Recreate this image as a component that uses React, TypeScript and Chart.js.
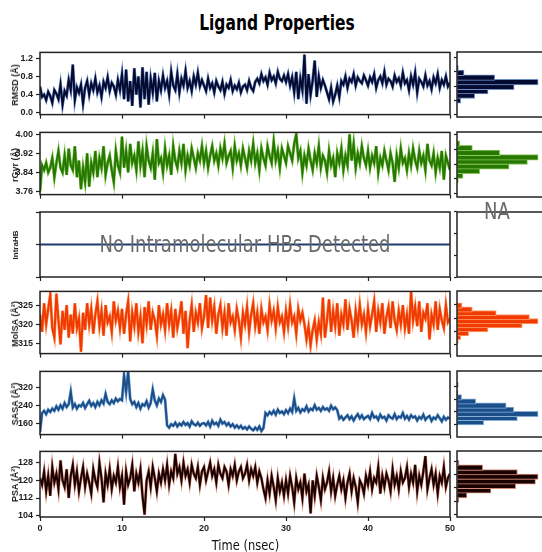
import React, { useEffect, useRef } from 'react';
import { Chart, registerables } from 'chart.js';

Chart.register(...registerables);

// ---------------- data ----------------
const TIME_STEP_NS = 0.25;
const X_TICKS = [0, 10, 20, 30, 40, 50];

const RMSD = [
  0.58,0.35,0.40,0.28,0.46,0.37,0.22,0.50,0.42,0.30,0.62,0.18,0.48,0.38,0.72,0.50,1.06,0.28,0.56,0.44,
  0.62,0.20,0.55,0.70,0.40,0.65,0.50,0.75,0.45,0.60,0.35,0.68,0.55,0.78,0.48,0.66,0.58,0.40,0.72,0.50,
  0.85,0.30,0.95,0.25,0.70,0.15,0.98,0.40,0.80,0.12,1.00,0.30,0.90,0.18,0.75,0.45,0.88,0.25,0.70,0.50,
  0.82,0.55,0.70,0.40,0.90,0.60,0.50,0.85,0.45,0.75,0.60,0.92,0.55,0.70,0.48,0.80,0.62,0.88,0.58,0.72,
  0.60,0.48,0.75,0.55,0.65,0.45,0.70,0.58,0.50,0.68,0.42,0.62,0.55,0.72,0.48,0.60,0.52,0.66,0.45,0.58,
  0.62,0.50,0.70,0.55,0.48,0.68,0.75,0.65,0.85,0.70,0.78,0.62,0.88,0.72,0.80,0.65,0.90,0.75,0.70,0.82,
  0.68,0.85,0.60,0.78,0.45,0.90,0.30,0.75,0.50,1.28,0.20,0.85,0.40,0.70,1.15,0.35,0.80,0.55,0.72,0.60,
  0.45,0.30,0.55,0.25,0.40,0.60,0.35,0.70,0.62,0.80,0.55,0.75,0.68,0.85,0.60,0.78,0.70,0.65,0.82,0.72,
  0.60,0.78,0.68,0.85,0.55,0.72,0.80,0.65,0.90,0.62,0.75,0.70,0.58,0.82,0.68,0.76,0.60,0.88,0.65,0.72,
  0.50,0.80,0.62,0.88,0.45,0.75,0.68,0.58,0.82,0.60,0.70,0.52,0.78,0.65,0.85,0.55,0.72,0.62,0.80,0.58,0.66,
];

const RGYR = [
  3.76,3.87,3.85,3.88,3.84,3.86,3.90,3.82,3.88,3.93,3.86,3.84,3.91,3.83,3.94,3.87,3.85,3.95,3.82,3.89,
  3.77,3.86,3.80,3.92,3.78,3.88,3.84,3.93,3.82,3.90,3.86,3.95,3.83,3.88,3.91,3.85,3.80,3.93,3.87,3.84,
  3.99,3.86,3.93,3.84,3.96,3.88,3.91,3.85,3.97,3.87,3.93,3.82,3.95,3.89,3.86,3.92,3.81,3.98,3.88,3.90,
  3.84,3.94,3.87,3.91,3.83,3.95,3.89,3.86,3.93,3.88,3.96,3.85,3.91,3.87,3.94,3.90,3.86,3.92,3.89,3.95,
  3.88,3.93,3.86,3.91,3.95,3.89,3.92,3.87,3.94,3.90,3.96,3.88,3.91,3.93,3.86,3.95,3.89,3.92,3.87,3.94,
  3.90,3.86,3.93,3.89,3.96,3.88,3.92,3.85,3.94,3.90,3.87,3.95,3.91,3.88,3.97,3.89,3.93,3.86,3.94,3.91,
  3.88,3.95,3.92,3.89,3.96,4.00,3.90,3.93,3.84,3.91,3.87,3.94,3.89,3.85,3.92,3.88,3.95,3.86,3.91,3.89,
  3.84,3.93,3.87,3.90,3.82,3.92,3.88,3.94,3.85,3.91,3.87,4.00,3.89,3.96,3.86,3.92,3.88,3.95,3.90,3.87,
  3.93,3.86,3.91,3.88,3.95,3.84,3.90,3.87,3.93,3.89,3.85,3.92,3.88,3.80,3.91,3.86,3.94,3.88,3.90,3.85,
  3.92,3.87,3.94,3.89,3.86,3.93,3.88,3.91,3.85,3.96,3.89,3.87,3.92,3.84,3.90,3.86,3.93,3.81,3.91,3.88,3.85,
];

const INTRAHB_TIME = [0, 50];
const INTRAHB = [0, 0];

const MOLSA = [
  322.5,318.0,325.5,320.0,324.0,327.7,319.0,316.5,328.0,321.0,314.7,323.5,318.5,325.0,316.5,322.5,317.5,325.5,319.0,321.5,
  312.8,323.0,318.5,325.5,320.0,324.0,317.5,322.5,326.0,319.5,323.5,317.0,325.0,320.5,322.0,318.0,326.0,321.0,323.5,319.0,
  324.0,317.5,322.5,326.0,315.5,323.0,319.5,325.5,318.0,322.0,315.0,324.5,320.0,326.0,318.5,323.0,321.0,317.0,325.0,320.0,
  322.5,318.5,325.5,320.0,323.5,316.5,324.0,319.0,322.0,326.0,317.5,323.5,313.7,321.0,325.0,318.0,323.0,320.5,325.5,319.0,
  322.0,327.6,319.0,327.0,321.0,324.5,317.5,322.5,325.0,319.0,323.0,317.0,325.5,320.5,322.0,318.5,324.0,321.0,316.5,323.0,
  320.0,324.5,318.0,322.5,325.5,319.5,323.0,317.5,324.0,320.5,322.0,318.5,325.0,321.0,323.5,319.0,324.5,320.5,322.0,318.0,
  323.5,319.5,325.0,320.5,322.0,317.5,324.0,321.0,323.0,320.0,316.0,319.5,314.5,318.5,321.0,316.0,320.5,317.5,327.0,316.5,
  321.0,326.5,318.0,323.5,319.5,325.5,317.0,322.5,320.0,326.5,318.5,324.0,321.0,316.5,323.5,319.5,325.0,320.0,322.5,318.0,
  324.0,319.5,322.5,326.0,318.0,323.5,320.5,325.5,317.5,322.0,324.5,319.0,326.0,321.0,318.5,323.5,320.0,325.0,319.0,322.5,
  317.5,328.6,321.0,324.5,319.5,326.0,318.0,323.0,321.5,325.5,316.0,322.5,320.0,326.0,318.5,324.0,321.0,319.0,325.0,320.5,321.5,
];

const SASA = [
  120,205,215,200,220,210,225,215,235,220,240,225,250,232,245,300,230,245,225,240,
  235,250,228,245,260,238,250,232,255,240,262,248,290,255,245,262,250,270,258,268,
  262,375,300,390,268,245,255,232,250,225,245,238,258,230,250,310,262,240,270,255,
  285,265,150,140,155,148,162,145,158,150,165,152,160,145,168,155,150,162,148,158,
  160,150,165,145,170,155,162,148,175,158,165,150,160,145,155,140,150,138,148,135,
  142,132,145,135,128,140,130,145,125,138,205,195,210,200,215,198,220,205,212,200,
  218,205,225,210,270,215,228,208,222,215,235,212,225,218,240,220,228,215,232,220,
  226,215,238,222,230,218,180,190,175,185,195,178,190,172,188,200,182,195,178,186,
  192,178,205,185,190,175,198,183,188,172,195,185,180,200,178,190,185,205,180,192,
  176,195,185,190,172,188,180,198,175,186,192,170,185,178,195,182,168,188,175,185,180,
];

const PSA = [
  121,118,124,115,122,113,126,119,123,116,129,120,117,125,112,122,127,118,124,115,
  121,126,117,123,119,114,125,120,117,128,121,110,123,118,125,116,122,119,126,117,
  122,109,124,118,121,127,115,123,119,125,113,104.5,120,124,117,126,121,115,123,119,
  125,120,127,118,124,121,132,123,126,120,128,122,125,119,127,123,121,126,118,124,
  126,120,124,128,122,125,119,127,123,121,126,124,118,125,122,127,120,124,126,121,
  123,127,120,125,122,126,119,124,121,116,112,120,114,122,117,111,121,115,119,113,
  120,114,122,117,110,121,116,119,112,123,115,118,105,120,113,122,117,111,121,116,
  119,124,115,121,113,118,122,116,120,112,119,123,115,121,117,110,120,118,114,122,
  118,124,116,121,119,126,114,122,117,123,120,115,125,118,122,116,124,119,121,126,
  117,123,119,127,115,122,118,124,131,116,121,125,118,123,114,122,119,126,117,121,123,
];

// histogram bins (centres) and counts
const RMSD_BINS = [0.20, 0.33, 0.46, 0.58, 0.71, 0.84, 0.97, 1.10];
const RMSD_COUNTS = [11, 53, 93, 171, 243, 113, 21, 4];
const RGYR_BINS = [3.794, 3.818, 3.843, 3.867, 3.892, 3.916, 3.940, 3.965, 3.989];
const RGYR_COUNTS = [4, 18, 68, 156, 211, 243, 128, 46, 8];
const MOLSA_BINS = [313.9, 315.4, 316.8, 318.3, 319.8, 321.3, 322.8, 324.3, 325.7, 327.2];
const MOLSA_COUNTS = [4, 11, 35, 93, 196, 244, 218, 118, 46, 15];
const SASA_BINS = [133, 160, 186, 213, 240, 266, 293, 320, 373];
const SASA_COUNTS = [81, 183, 246, 172, 149, 57, 14, 3, 4];
const PSA_BINS = [108.9, 111.6, 114.4, 117.1, 119.8, 122.6, 125.3, 128.1, 130.8];
const PSA_COUNTS = [6, 30, 103, 178, 238, 246, 183, 78, 6];

// y tick values
const RMSD_TICKS = [0, 0.4, 0.8, 1.2];
const RGYR_TICKS = [3.76, 3.84, 3.92, 4.0];
const INTRAHB_TICKS = [-1, 0, 1];
const MOLSA_TICKS = [315, 320, 325];
const SASA_TICKS = [160, 240, 320];
const PSA_TICKS = [104, 112, 120, 128];

// ---------------- layout / style ----------------
const PADT = 8;
const TICK_FONT = { family: '"Liberation Sans", Arial, sans-serif', size: 9, weight: 'bold' as const };
const INK = '#1e1e1e';

const ROWS = [
  { label: 'RMSD (Å)', t: null, v: RMSD, color: '#050b30', halo: '#6f8fc8', min: -0.04, max: 1.33, ticks: RMSD_TICKS, fmt: (x: number) => x.toFixed(1), bins: RMSD_BINS, counts: RMSD_COUNTS, top: 52, h: 65 },
  { label: 'rGyr (Å)', t: null, v: RGYR, color: '#267800', halo: '#86c65a', min: 3.747, max: 4.008, ticks: RGYR_TICKS, fmt: (x: number) => x.toFixed(2), bins: RGYR_BINS, counts: RGYR_COUNTS, top: 132, h: 65 },
  { label: 'IntraHB', t: INTRAHB_TIME, v: INTRAHB, color: '#1d3c72', halo: '#1d3c72', min: -1, max: 1, ticks: INTRAHB_TICKS, fmt: null, bins: null, counts: null, top: 212, h: 65 },
  { label: 'MolSA (Å²)', t: null, v: MOLSA, color: '#f03a00', halo: '#ffa070', min: 312.3, max: 328.6, ticks: MOLSA_TICKS, fmt: (x: number) => String(x), bins: MOLSA_BINS, counts: MOLSA_COUNTS, top: 291, h: 65 },
  { label: 'SASA (Å²)', t: null, v: SASA, color: '#1b4f8a', halo: '#86add8', min: 108.6, max: 391.6, ticks: SASA_TICKS, fmt: (x: number) => String(x), bins: SASA_BINS, counts: SASA_COUNTS, top: 371, h: 66 },
  { label: 'PSA (Å²)', t: null, v: PSA, color: '#1a0202', halo: '#d48a76', min: 103.4, max: 133.1, ticks: PSA_TICKS, fmt: (x: number) => String(x), bins: PSA_BINS, counts: PSA_COUNTS, top: 451, h: 66 },
];

const framePlugin = {
  id: 'frame',
  afterDraw(chart: any) {
    const { ctx, chartArea: a } = chart;
    ctx.save();
    ctx.strokeStyle = '#222';
    ctx.lineWidth = 1.5;
    ctx.strokeRect(a.left, a.top, a.right - a.left, a.bottom - a.top);
    ctx.restore();
  },
};

const gridOpts = { drawOnChartArea: false, drawTicks: true, tickLength: 4, tickColor: '#222', tickWidth: 1.2 };

function LinePanel({ row, last }: any) {
  const ref = useRef<HTMLCanvasElement>(null);
  const xh = last ? 24 : 6;
  const W = 460;
  const H = PADT + row.h + xh;
  useEffect(() => {
    const times = row.t || row.v.map((_: number, i: number) => i * TIME_STEP_NS);
    const pts = row.v.map((y: number, i: number) => ({ x: times[i], y }));
    const datasets: any[] = [];
    datasets.push({ data: pts, borderColor: row.color, borderWidth: 2, pointRadius: 0, tension: 0, fill: false, order: 0 });
    if (row.halo !== row.color) {
      datasets.push({ data: pts, borderColor: row.halo, borderWidth: 3.1, pointRadius: 0, tension: 0, fill: false, order: 1 });
    }
    const chart = new Chart(ref.current as HTMLCanvasElement, {
      type: 'line',
      data: { datasets },
      options: {
        responsive: false,
        animation: false,
        devicePixelRatio: 1,
        events: [],
        layout: { padding: { top: PADT, right: 10, bottom: 0, left: 0 } },
        plugins: { legend: { display: false }, tooltip: { enabled: false } },
        scales: {
          x: {
            type: 'linear', min: 0, max: 50,
            afterBuildTicks: (s: any) => { s.ticks = X_TICKS.map((v) => ({ value: v })); },
            afterFit: (s: any) => { s.height = xh; },
            grid: gridOpts, border: { display: false },
            ticks: { display: last, font: TICK_FONT, color: INK, padding: 2, maxRotation: 0, autoSkip: false, callback: (v: any) => String(v) },
          },
          y: {
            type: 'linear', min: row.min, max: row.max,
            afterBuildTicks: (s: any) => { s.ticks = row.ticks.map((v: number) => ({ value: v })); },
            afterFit: (s: any) => { s.width = 40; },
            grid: gridOpts, border: { display: false },
            ticks: { display: !!row.fmt, font: TICK_FONT, color: INK, padding: 3, autoSkip: false, callback: (v: any) => (row.fmt ? row.fmt(Number(v)) : '') },
          },
        },
      } as any,
      plugins: [framePlugin],
    });
    return () => chart.destroy();
  }, []);
  return <canvas ref={ref} width={W} height={H} style={{ position: 'absolute', left: 0, top: row.top - PADT, width: W, height: H }} />;
}

function HistPanel({ row }: any) {
  const ref = useRef<HTMLCanvasElement>(null);
  const W = 120;
  const H = PADT + row.h + 4;
  useEffect(() => {
    const datasets: any[] = [];
    let xmax = 100;
    if (row.bins) {
      xmax = Math.max(...row.counts) * 1.43;
      datasets.push({
        data: row.bins.map((b: number, i: number) => ({ x: row.counts[i], y: b })),
        backgroundColor: row.color,
        borderColor: row.halo,
        borderWidth: 1,
        borderSkipped: false,
        barThickness: 5.5,
      });
    }
    const chart = new Chart(ref.current as HTMLCanvasElement, {
      type: 'bar',
      data: { datasets },
      options: {
        indexAxis: 'y',
        responsive: false,
        animation: false,
        devicePixelRatio: 1,
        events: [],
        layout: { padding: { top: PADT, right: 0, bottom: 4, left: 0 } },
        plugins: { legend: { display: false }, tooltip: { enabled: false } },
        scales: {
          x: { type: 'linear', min: 0, max: xmax, display: false },
          y: {
            type: 'linear', min: row.min, max: row.max,
            afterBuildTicks: (s: any) => { s.ticks = row.ticks.map((v: number) => ({ value: v })); },
            afterFit: (s: any) => { s.width = 4; },
            grid: { ...gridOpts, tickLength: 3 }, border: { display: false },
            ticks: { display: false },
          },
        },
      } as any,
      plugins: [framePlugin],
    });
    return () => chart.destroy();
  }, []);
  return <canvas ref={ref} width={W} height={H} style={{ position: 'absolute', left: 453, top: row.top - PADT, width: W, height: H }} />;
}

export default function App() {
  return (
    <div style={{ position: 'absolute', left: 0, top: 0, width: 542, height: 552, overflow: 'hidden', background: '#fff' }}>
      <div style={{ position: 'absolute', left: 0, width: 554, top: 13.5, textAlign: 'center', font: 'bold 15.5px "DejaVu Sans", sans-serif', lineHeight: '15.5px', transform: 'scaleY(1.35)', transformOrigin: 'top center', color: '#000', whiteSpace: 'nowrap' }}>
        Ligand Properties
      </div>
      {ROWS.map((row, i) => (
        <React.Fragment key={row.label}>
          <LinePanel row={row} last={i === ROWS.length - 1} />
          <HistPanel row={row} />
          <div style={{ position: 'absolute', left: 14.5, top: row.top + row.h / 2, width: 0, height: 0 }}>
            <span style={{ position: 'absolute', left: 0, top: 0, whiteSpace: 'nowrap', font: `bold ${row.label === 'IntraHB' ? 8 : 9}px "Liberation Sans", Arial, sans-serif`, color: INK, transform: 'translate(-50%, -50%) rotate(-90deg)' }}>
              {row.label}
            </span>
          </div>
        </React.Fragment>
      ))}
      <div style={{ position: 'absolute', left: 0, width: 490, top: 232.7, textAlign: 'center', font: '18px "DejaVu Sans", sans-serif', lineHeight: '18px', transform: 'scaleY(1.25)', transformOrigin: 'top center', color: '#6a6a6a', whiteSpace: 'nowrap' }}>
        No Intramolecular HBs Detected
      </div>
      <div style={{ position: 'absolute', left: 447, width: 100, top: 200.3, textAlign: 'center', font: '18px "DejaVu Sans", sans-serif', lineHeight: '18px', transform: 'scaleY(1.25)', transformOrigin: 'top center', color: '#6a6a6a', whiteSpace: 'nowrap' }}>
        NA
      </div>
      <div style={{ position: 'absolute', left: 0, width: 490.8, top: 539, textAlign: 'center', font: '11.5px "DejaVu Sans", sans-serif', lineHeight: '12px', transform: 'scaleY(1.15)', transformOrigin: 'top center', color: '#111', whiteSpace: 'nowrap' }}>
        Time (nsec)
      </div>
    </div>
  );
}
